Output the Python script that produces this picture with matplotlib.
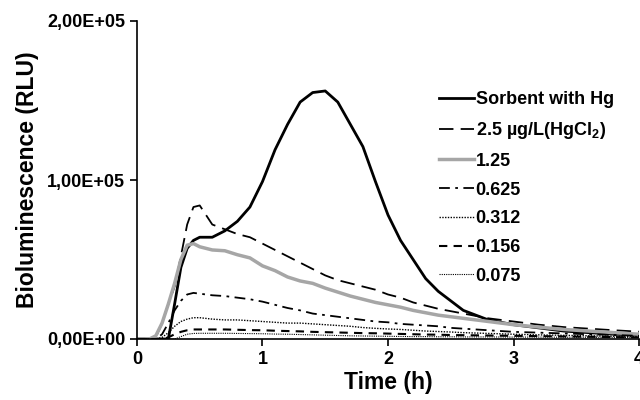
import matplotlib
matplotlib.use("Agg")
import matplotlib.pyplot as plt
from matplotlib.ticker import FuncFormatter
import numpy as np

plt.rcParams['font.family'] = ['Liberation Sans', 'DejaVu Sans']
plt.rcParams['font.weight'] = 'bold'
plt.rcParams['mathtext.fontset'] = 'custom'
plt.rcParams['mathtext.rm'] = 'Liberation Sans:bold'
plt.rcParams['mathtext.it'] = 'Liberation Sans:bold'
plt.rcParams['mathtext.bf'] = 'Liberation Sans:bold'

# time (h)
time_h = [0, 0.1, 0.15, 0.2, 0.25, 0.3, 0.35, 0.4, 0.45,
          0.5, 0.6, 0.7, 0.8, 0.9, 1.0, 1.1, 1.2, 1.3, 1.4, 1.5, 1.6,
          1.7, 1.8, 1.9, 2.0, 2.1, 2.2, 2.3, 2.4, 2.5, 2.6,
          2.8, 3.0, 3.2, 3.4, 3.6, 3.8, 4.0]

# bioluminescence in thousands of RLU
sorbent = [0, 0, 0, 0, 0, 22, 45, 57, 62,
           64, 64, 68, 74, 83, 99, 119, 135, 149, 155, 156, 149,
           135, 121, 99, 78, 62, 50, 38, 30, 24, 18,
           12, 9, 7, 5, 4, 3, 2.5]
c_2_5 = [0, 0, 1, 10, 22, 33, 52, 72, 83,
         84, 72, 69, 66, 64, 60, 56, 52, 48, 44, 40, 37,
         35, 33, 31, 28, 26, 23, 21, 19, 17.5, 16,
         13, 11, 9, 7.5, 6.5, 5.5, 4.6]
c_1_25 = [0, 0, 2, 10, 22, 35, 50, 59, 60,
          58, 56, 55.5, 53, 51, 46, 43, 39, 36.5, 35, 32, 29.5,
          27, 25, 23, 21.5, 20, 18, 16.5, 15, 14, 13,
          11, 9, 7.5, 6, 5, 4, 3]
c_0_625 = [0, 0, 0, 3, 10, 18, 24, 28, 29,
           28.5, 27.5, 27, 26, 25, 23.5, 21.5, 19.5, 18, 16, 15, 14,
           13, 12, 11, 10.5, 9.5, 9, 8.5, 8, 7, 6.5,
           5.5, 4.5, 4, 3.5, 3, 2.5, 2]
c_0_312 = [0, 0, 0, 1, 4, 8, 11, 12.5, 13.4,
           13.4, 12.5, 12, 12, 11.5, 11, 10.5, 10, 10, 9.5, 9, 8.5,
           8, 7.2, 6.7, 6.3, 6, 5.5, 5, 4.7, 4.4, 4,
           3.5, 3, 2.6, 2.3, 2, 1.7, 1.5]
c_0_156 = [0, 0, 0, 0, 1, 3, 4.5, 5.5, 6,
           6, 6, 6, 5.8, 5.6, 5.5, 5.2, 5, 4.8, 4.5, 4.3, 4.1,
           3.9, 3.7, 3.6, 3.4, 3.2, 3, 2.8, 2.7, 2.5, 2.4,
           2.2, 2, 1.8, 1.6, 1.4, 1.2, 1]
c_0_075 = [0, 0, 0, 0, 0, 0, 1.5, 3, 3.5,
           3.6, 3.6, 3.6, 3.5, 3.4, 3.3, 3.1, 3, 2.8, 2.6, 2.4, 2.2,
           2, 1.9, 1.8, 1.7, 1.6, 1.5, 1.5, 1.4, 1.4, 1.3,
           1.3, 1.2, 1.2, 1.1, 1.1, 1, 1]

labels = ['Sorbent with Hg', '2.5 µg/L(HgCl$_2$)', '1.25', '0.625',
          '0.312', '0.156', '0.075']

fig = plt.figure(figsize=(6.4, 4), dpi=100)
ax = fig.add_axes([0.214, 0.1525, 0.7845, 0.795])

t = np.array(time_h)
k = 1000.0
ax.plot(t, np.array(sorbent) * k, color='black', lw=2, label=labels[0])
ax.plot(t, np.array(c_2_5) * k, color='black', lw=1.3, dashes=(8, 4), label=labels[1])
ax.plot(t, np.array(c_1_25) * k, color='#a6a6a6', lw=2.5, label=labels[2])
ax.plot(t, np.array(c_0_625) * k, color='black', lw=1.3, dashes=(6, 3, 1.5, 3), label=labels[3])
ax.plot(t, np.array(c_0_312) * k, color='black', lw=1.0, dashes=(1, 1), label=labels[4])
ax.plot(t, np.array(c_0_156) * k, color='black', lw=1.5, dashes=(4, 3), label=labels[5])
ax.plot(t, np.array(c_0_075) * k, color='black', lw=0.8, dashes=(1, 1), label=labels[6])

ax.set_xlim(0, 4)
ax.set_ylim(0, 2e5)
ax.set_xticks([0, 1, 2, 3, 4])
ax.set_yticks([0, 1e5, 2e5])
ax.yaxis.set_major_formatter(FuncFormatter(lambda v, p: ('%.2E' % v).replace('.', ',')))
ax.tick_params(axis='both', direction='out', length=5, width=1.2, labelsize=13)
for s in ['top', 'right']:
    ax.spines[s].set_visible(False)
for s in ['left', 'bottom']:
    ax.spines[s].set_linewidth(1.2)

ax.set_xlabel('Time (h)', fontsize=16.5, fontweight='bold', labelpad=2)
ax.set_ylabel('Bioluminescence (RLU)', fontsize=16.5, fontweight='bold', labelpad=6)

ax.legend(loc='upper left', bbox_to_anchor=(0.57, 0.83), frameon=False, fontsize=13,
          handlelength=1.9, handletextpad=0.1, labelspacing=0.65)

fig.savefig('out.png', dpi=100)
